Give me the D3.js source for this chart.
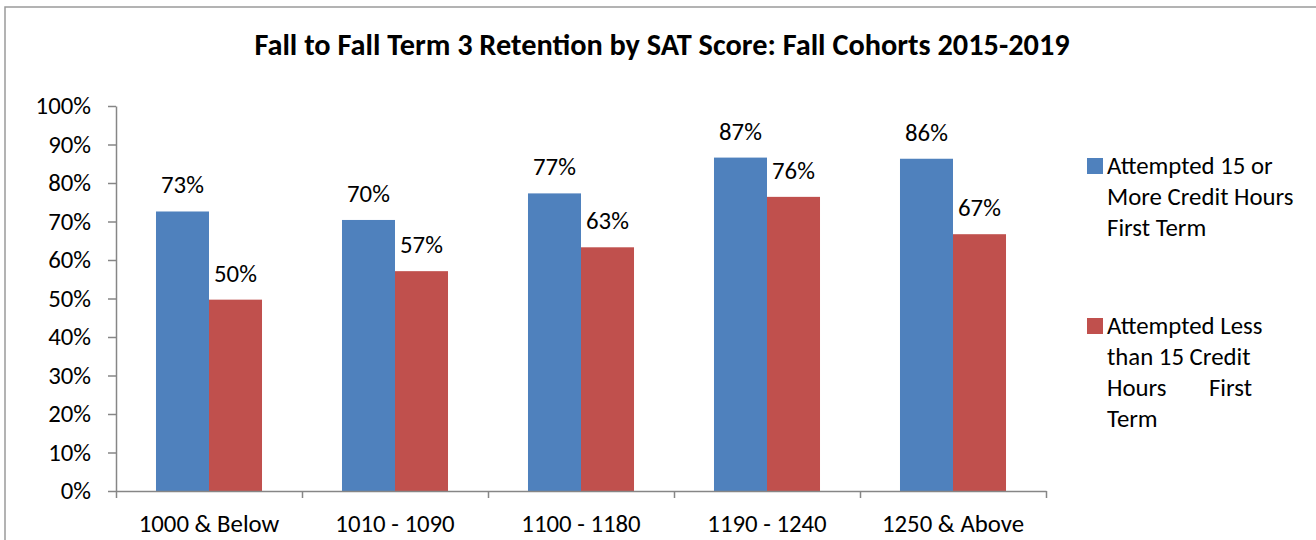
<!DOCTYPE html>
<html>
<head>
<meta charset="utf-8">
<script src="https://cdn.jsdelivr.net/npm/d3@7"></script>
<style>
  body { margin: 0; background: #fff; }
  svg text { font-family: Carlito, "Open Sans", Lato, sans-serif; fill: #000; }
</style>
</head>
<body>
<svg id="chart" width="1316" height="540"></svg>
<script>
// data
const categories = ["1000 & Below", "1010 - 1090", "1100 - 1180", "1190 - 1240", "1250 & Above"];
const seriesNames = ["Attempted 15 or More Credit Hours First Term", "Attempted Less than 15 Credit Hours First Term"];
const over15 = [0.726, 0.704, 0.773, 0.866, 0.863];
const under15 = [0.497, 0.571, 0.633, 0.764, 0.667];
const yTicks = [0, 0.1, 0.2, 0.3, 0.4, 0.5, 0.6, 0.7, 0.8, 0.9, 1];
const legendLines = [
  ["Attempted 15 or", "More Credit Hours", "First Term"],
  ["Attempted Less", "than 15 Credit", ["Hours", "First"], "Term"]
];
const colors = ["#4F81BD", "#C0504D"];

const svg = d3.select("#chart");
const axisGray = "#868686";
const fs = 24.8;

// outer chart border (right and bottom fall outside the picture)
svg.append("rect")
  .attr("x", 5).attr("y", 7)
  .attr("width", 1400).attr("height", 600)
  .attr("fill", "none")
  .attr("stroke", "#9a9a9a")
  .attr("stroke-width", 1.5);

// title
svg.append("text")
  .attr("x", 662).attr("y", 55)
  .attr("text-anchor", "middle")
  .attr("font-weight", "bold")
  .attr("font-size", 30.3)
  .text("Fall to Fall Term 3 Retention by SAT Score: Fall Cohorts 2015-2019");

// scales
const x = d3.scaleBand()
  .domain(categories)
  .range([116, 1046])
  .paddingInner(0.43)
  .paddingOuter(0.215);

const xs = d3.scaleBand()
  .domain(seriesNames)
  .range([0, x.bandwidth()]);

const y = d3.scaleLinear()
  .domain([0, 1])
  .range([491, 106]);

// y axis
const yAxis = svg.append("g")
  .attr("transform", "translate(116,0)")
  .call(d3.axisLeft(y).tickValues(yTicks).tickFormat(d3.format(".0%")).tickSize(8).tickSizeOuter(0).tickPadding(17));
yAxis.selectAll("text").attr("font-size", fs).attr("font-family", null);
yAxis.selectAll("line, path").attr("stroke", axisGray).attr("stroke-width", 1.5);

// bars
const values = [over15, under15];
const rows = categories.map((c, i) => ({ cat: c, vals: seriesNames.map((s, j) => ({ s, j, v: values[j][i] })) }));

const groups = svg.append("g").selectAll("g")
  .data(rows)
  .join("g")
  .attr("transform", d => `translate(${x(d.cat)},0)`);

groups.selectAll("rect")
  .data(d => d.vals)
  .join("rect")
  .attr("x", d => xs(d.s))
  .attr("y", d => y(d.v))
  .attr("width", xs.bandwidth())
  .attr("height", d => y(0) - y(d.v))
  .attr("fill", d => colors[d.j]);

groups.selectAll("text")
  .data(d => d.vals)
  .join("text")
  .attr("x", d => xs(d.s) + xs.bandwidth() / 2)
  .attr("y", d => y(d.v) - 18)
  .attr("text-anchor", "middle")
  .attr("font-size", fs)
  .text(d => d3.format(".0%")(d.v));

// x axis: boundary ticks between categories, labels at centres
const xEdge = d3.scaleLinear().domain([0, categories.length]).range([116, 1046]);
const xAxis = svg.append("g")
  .attr("transform", "translate(0,491)")
  .call(d3.axisBottom(xEdge).ticks(categories.length).tickFormat("").tickSize(7).tickSizeOuter(0));
xAxis.selectAll("line, path").attr("stroke", axisGray).attr("stroke-width", 1.5);

const xLabels = svg.append("g")
  .attr("transform", "translate(0,491)")
  .call(d3.axisBottom(x).tickSize(0).tickPadding(23));
xLabels.select(".domain").remove();
xLabels.selectAll("text").attr("font-size", fs).attr("font-family", null);

// legend
const legendTop = [174, 334];
const lineGap = 31;
legendLines.forEach((lines, i) => {
  const g = svg.append("g");
  g.append("rect")
    .attr("x", 1087).attr("y", legendTop[i] - 16)
    .attr("width", 16).attr("height", 16)
    .attr("fill", colors[i]);
  lines.forEach((ln, k) => {
    const yy = legendTop[i] + k * lineGap;
    if (Array.isArray(ln)) {
      // justified line
      g.append("text").attr("x", 1107).attr("y", yy).attr("font-size", fs).text(ln[0]);
      g.append("text").attr("x", 1252).attr("y", yy).attr("font-size", fs).attr("text-anchor", "end").text(ln[1]);
    } else {
      g.append("text").attr("x", 1107).attr("y", yy).attr("font-size", fs).text(ln);
    }
  });
});
</script>
</body>
</html>
